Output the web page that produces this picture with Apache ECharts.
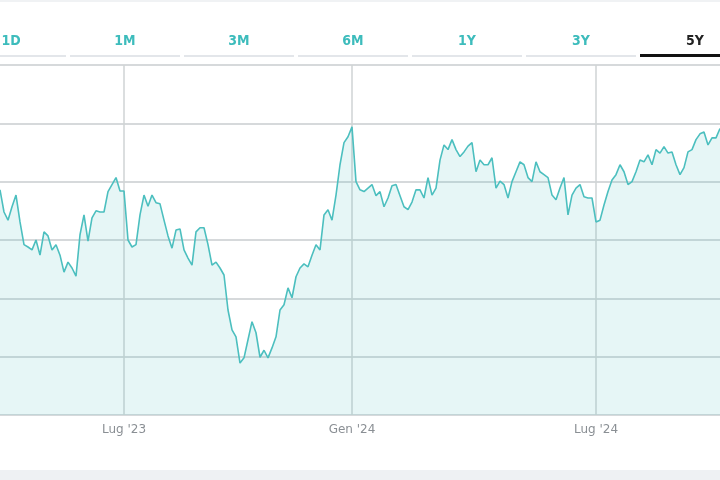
<!DOCTYPE html>
<html>
<head>
<meta charset="utf-8">
<script src="https://cdn.jsdelivr.net/npm/echarts@6/dist/echarts.min.js"></script>
<style>
  body{margin:0;width:720px;height:480px;overflow:hidden;background:#fff;position:relative;font-family:"DejaVu Sans",sans-serif;}
  .topline{position:absolute;left:0;top:0;width:720px;height:2px;background:#f0f2f4;}
  .tabs{position:absolute;left:-44px;top:27px;height:32px;}
  .tab{position:absolute;top:0;width:110px;height:28px;text-align:center;font-size:14px;font-weight:bold;font-stretch:condensed;color:#3dbcbc;line-height:26px;border-bottom:2px solid #e3e6ea;}
  .tab.active{color:#222;border-bottom:3px solid #111;height:27px;}
  #chart{position:absolute;left:0;top:0;width:720px;height:480px;}
  .bottombar{position:absolute;left:0;top:470px;width:720px;height:10px;background:#eef1f3;}
</style>
</head>
<body>
<div class="topline"></div>
<div id="chart"></div>
<div class="tabs" id="tabs"></div>
<div class="bottombar"></div>
<script>
var tabNames = ['1D','1M','3M','6M','1Y','3Y','5Y'];
var activeTab = '5Y';

// index in the series -> axis label
var tickIndex = [31, 88, 149];
var tickLabels = ["Lug '23", "Gen '24", "Lug '24"];

var prices = [
118.6,114.8,113.4,115.7,117.7,113.1,109.2,108.8,108.3,110.0,107.4,111.4,110.7,108.3,109.2,107.4,
104.5,106.2,105.2,103.8,110.9,114.3,109.8,113.8,115.0,114.8,114.8,118.3,119.5,120.7,118.4,118.4,
110.0,108.8,109.2,114.3,117.7,115.8,117.7,116.4,116.2,113.4,110.7,108.6,111.7,111.9,108.3,106.9,
105.7,111.4,112.1,112.1,109.2,105.7,106.2,105.2,104.0,98.0,94.6,93.4,88.9,89.8,92.9,96.0,
94.1,89.9,91.1,89.8,91.5,93.4,98.0,98.9,101.8,100.1,103.7,105.2,105.9,105.4,107.4,109.2,
108.3,114.3,115.2,113.4,117.7,122.9,126.7,127.7,129.4,120.0,118.6,118.3,118.9,119.5,117.6,118.3,
115.7,117.2,119.3,119.5,117.6,115.7,115.2,116.5,118.6,118.6,117.2,120.7,117.7,118.9,123.7,126.3,
125.5,127.2,125.5,124.3,125.1,126.1,126.7,121.7,123.7,122.9,122.9,124.1,118.9,120.1,119.5,117.2,
120.0,121.7,123.4,122.9,120.7,120.0,123.4,121.7,121.2,120.7,117.7,116.9,118.9,120.7,114.3,117.7,
118.9,119.5,117.4,117.2,117.2,113.1,113.4,116.0,118.3,120.3,121.2,122.9,121.7,119.5,120.0,121.7,
123.7,123.4,124.6,122.9,125.5,124.9,126.0,124.9,125.1,122.9,121.2,122.4,125.1,125.5,127.2,128.2,
128.5,126.3,127.5,127.5,129.1
];

var $tabs = document.getElementById('tabs');
tabNames.forEach(function(t, i){
  var d = document.createElement('div');
  d.className = 'tab' + (t === activeTab ? ' active' : '');
  d.style.left = (i * 114) + 'px';
  d.textContent = t;
  $tabs.appendChild(d);
});

var cats = prices.map(function(v, i){
  var k = tickIndex.indexOf(i);
  return k >= 0 ? tickLabels[k] : String(i);
});
function isTick(i){ return tickIndex.indexOf(i) >= 0; }

var myChart = echarts.init(document.getElementById('chart'));
myChart.setOption({
  animation: false,
  grid: {left: 0, right: 0, top: 65, bottom: 65},
  xAxis: {
    type: 'category',
    data: cats,
    boundaryGap: false,
    axisLine: {show: false},
    axisTick: {show: false},
    axisLabel: {
      interval: function(i){ return isTick(i); },
      color: '#8a8f94',
      fontSize: 12,
      fontFamily: 'DejaVu Sans',
      margin: 9
    },
    splitLine: {show: true, interval: function(i){ return isTick(i); }, lineStyle: {color: '#cfd3d5', width: 1.5}}
  },
  yAxis: {
    type: 'value',
    min: 80, max: 140, interval: 10,
    axisLabel: {show: false},
    axisLine: {show: false},
    axisTick: {show: false},
    splitLine: {lineStyle: {color: '#d6d9db', width: 2}}
  },
  series: [{
    type: 'line',
    data: prices,
    symbol: 'none',
    lineStyle: {color: '#4cbfbf', width: 1.6},
    areaStyle: {color: 'rgba(76,191,191,0.14)', opacity: 1, origin: 'start'}
  }]
});
</script>
</body>
</html>
